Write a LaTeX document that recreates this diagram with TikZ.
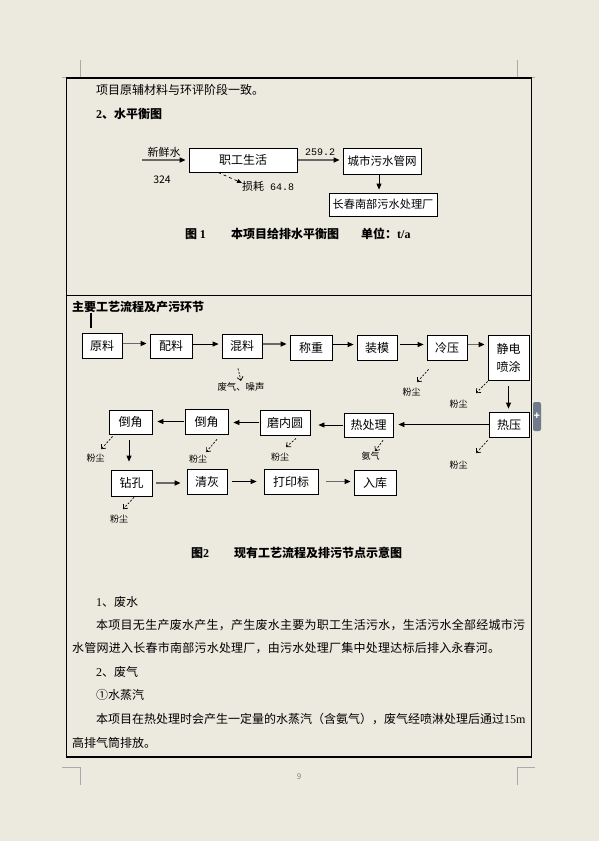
\documentclass[tikz,border=0pt]{standalone}
\usepackage{fontspec}
\setmainfont{Noto Sans CJK SC}
\newfontfamily\tnr{Liberation Serif}
\newfontfamily\mono{Liberation Mono}
\usepackage{xcolor}
\usepackage{tikz}
\usetikzlibrary{arrows.meta}
\definecolor{pagebg}{RGB}{236,233,222}
\definecolor{markgray}{RGB}{170,170,170}
\definecolor{tabgray}{RGB}{112,122,138}
\definecolor{arrgray}{RGB}{105,105,105}
\newcommand{\sz}[1]{\fontsize{#1}{#1}\selectfont}
\def\spreadchars#1{\ifx#1\relax\else#1\hfil\expandafter\spreadchars\fi}

\begin{document}
\begin{tikzpicture}[x=1pt, y=-1pt,
  box/.style={draw, fill=white, line width=0.8pt, inner sep=0pt, font=\sz{12}},
  flow/.style={-{Triangle[length=6pt,width=5pt,color=black]}, line width=0.8pt, shorten >=3pt, shorten <=1pt},
  gflow/.style={flow, line width=1.5pt, draw=arrgray},
  loss/.style={dashed, -{Triangle[length=5pt,width=4pt]}, line width=0.7pt},
  dust/.style={dash pattern=on 2pt off 1.5pt, -{Straight Barb[length=3.5pt,width=6pt]}, line width=0.7pt},
  lbl/.style={inner sep=0pt, font=\sz{9}},
  txt/.style={anchor=west, inner sep=0pt, font=\sz{12}},
  captxt/.style={anchor=west, inner sep=0pt, font=\sz{12}\bfseries}]
\fill[pagebg] (0,0) rectangle (599,841);
\useasboundingbox (0,0) rectangle (599,841);

% page corners and frame
\draw[markgray, line width=0.8pt] (62,77) -- (80,77) -- (80,60);
\draw[markgray, line width=0.8pt] (535,77) -- (517,77) -- (517,60);
\draw[markgray, line width=0.8pt] (62,767) -- (80,767) -- (80,785);
\draw[markgray, line width=0.8pt] (535,767) -- (517,767) -- (517,785);
\draw[line width=1.2pt] (66.5,78) rectangle (531.5,757);
\draw[line width=1pt] (66.5,295) -- (531.5,295);
\fill[tabgray, rounded corners=2pt] (533,402) rectangle (541,431);
\node[text=white, font=\sz{10}\bfseries, inner sep=0pt] (tabplus) at (537,416) {+};
\node[text=gray, font=\sz{8}, inner sep=0pt] (pgno) at (299,777) {9};

\node[txt] (t1) at (96,90) {项目原辅材料与环评阶段一致。};
\node[captxt] (t2) at (96,114) {{\tnr 2}、水平衡图};

% water balance
\node[inner sep=0pt, font=\sz{11}] (xsw) at (164,152) {新鲜水};
\coordinate (src) at (141,160);
\node[box, minimum width=108pt, minimum height=24pt] (zg) at (243,160) {职工生活};
\draw[gflow] (src) -- (zg.west);
\node[inner sep=0pt, font=\sz{10.5}] (n324) at (162,180) {324};
\node[box, minimum width=78pt, minimum height=26pt, font=\sz{11.5}] (gw) at (382,161) {城市污水管网};
\node[box, minimum width=108pt, minimum height=23pt, font=\sz{11.2}] (cl) at (383,204.5) {长春南部污水处理厂};
\draw[gflow] (zg.east) -- (zg.east -| gw.west) node[midway, above=0pt, font=\mono\sz{10}] (q259) {259.2};
\node[inner sep=0pt, anchor=west] (sh) at (242,186) {\sz{11}损耗{\mono\sz{10} 64.8}};
\draw[loss] ([xshift=-25pt]zg.south) -- ([yshift=3pt]sh.west);
\draw[flow] ([xshift=-3pt]gw.south) -- ([xshift=-3pt]gw.south |- cl.north);

\node[captxt] (c1a) at (185,234) {图 {\tnr 1}};
\node[captxt] (c1b) at (231,234) {本项目给排水平衡图};
\node[captxt] (c1c) at (361,234) {单位：{\tnr t/a}};

% process flow
\node[captxt] (hd) at (72,307) {主要工艺流程及产污环节};
\draw[line width=1.5pt] (91,313) -- (91,328);

\node[box, minimum width=40pt, minimum height=25pt] (yl) at (102,345.5) {原料};
\node[box, minimum width=42pt, minimum height=24pt] (pl) at (171,346) {配料};
\node[box, minimum width=40pt, minimum height=24pt] (hl) at (242,346) {混料};
\node[box, minimum width=42pt, minimum height=25pt] (cz) at (311,347.5) {称重};
\node[box, minimum width=40pt, minimum height=25pt] (zm) at (377,347.5) {装模};
\node[box, minimum width=40pt, minimum height=25pt] (ly) at (447,347.5) {冷压};
\node[box, minimum width=41pt, minimum height=45pt, align=center] (jd) at (508.5,357.5) {静电\\[6pt]喷涂};
\node[box, minimum width=40pt, minimum height=25pt] (ry) at (509,424.5) {热压};
\node[box, minimum width=49pt, minimum height=24pt] (rcl) at (368.5,425) {热处理};
\node[box, minimum width=50pt, minimum height=25pt] (mny) at (285,422.5) {磨内圆};
\node[box, minimum width=43pt, minimum height=25pt] (dj2) at (206.5,421.5) {倒角};
\node[box, minimum width=43pt, minimum height=24pt] (dj1) at (130.5,422) {倒角};
\node[box, minimum width=41pt, minimum height=26pt] (zk) at (131.5,483) {钻孔};
\node[box, minimum width=40pt, minimum height=25pt] (qh) at (207,481.5) {清灰};
\node[box, minimum width=54pt, minimum height=25pt] (dyb) at (291,481.5) {打印标};
\node[box, minimum width=42pt, minimum height=25pt] (rk) at (375,482.5) {入库};

\draw[gflow] ([yshift=2pt]yl.east) -- ([yshift=2pt]yl.east -| pl.west);
\draw[flow] ([yshift=2pt]pl.east) -- ([yshift=2pt]pl.east -| hl.west);
\draw[gflow] ([yshift=2pt]hl.east) -- ([yshift=2pt]hl.east -| cz.west);
\draw[flow] ([yshift=3pt]cz.east) -- ([yshift=3pt]cz.east -| zm.west);
\draw[flow, shorten <=3pt] ([yshift=3pt]zm.east) -- ([yshift=3pt]zm.east -| ly.west);
\draw[gflow] ([yshift=3pt]ly.east) -- ([yshift=3pt]ly.east -| jd.west);
\draw[flow, shorten <=6pt] (jd.south) -- (jd.south |- ry.north);
\draw[flow, shorten >=5pt, shorten <=0pt] (ry.west) -- (ry.west -| rcl.east);
\draw[flow, shorten >=8pt] (rcl.west) -- (rcl.west -| mny.east);
\draw[flow, shorten >=5pt] (mny.west) -- (mny.west -| dj2.east);
\draw[flow, shorten >=5pt] (dj2.west) -- (dj2.west -| dj1.east);
\draw[flow, shorten <=6pt, shorten >=8pt] ([xshift=-1.5pt]dj1.south) -- ([xshift=-1.5pt]dj1.south |- zk.north);
\draw[gflow, shorten <=4pt, shorten >=6pt] (zk.east) -- (zk.east -| qh.west);
\draw[flow, shorten <=5pt, shorten >=7pt] (qh.east) -- (qh.east -| dyb.west);
\draw[gflow, shorten <=8pt] (dyb.east) -- (dyb.east -| rk.west);

% emissions
\node[lbl, font=\sz{9.4}] (fq) at (241,387) {废气、噪声};
\node[lbl] (fc1) at (411.5,392) {粉尘};
\node[lbl] (fc2) at (458.5,404) {粉尘};
\node[lbl] (fc3) at (95.5,458) {粉尘};
\node[lbl] (fc4) at (198,459) {粉尘};
\node[lbl] (fc5) at (280,457) {粉尘};
\node[lbl] (aq) at (370.5,456) {氨气};
\node[lbl] (fc6) at (458.5,465) {粉尘};
\node[lbl] (fc7) at (119,519) {粉尘};
\draw[dust] ([shift={(-4pt,-10pt)}]hl.south) -- ([shift={(0pt,1.5pt)}]fq.north);
\draw[dust] ([shift={(2pt,-9pt)}]ly.south west) -- ([shift={(5.5pt,5.5pt)}]fc1.north);
\draw[dust] ([shift={(0pt,-1pt)}]jd.south west) -- ([shift={(17.5pt,6.5pt)}]fc2.north);
\draw[dust] ([shift={(4pt,-2pt)}]dj1.south west) -- ([shift={(5.5pt,4.5pt)}]fc3.north);
\draw[dust] ([shift={(10.5pt,-5pt)}]dj2.south) -- ([shift={(8pt,2.5pt)}]fc4.north);
\draw[dust] ([shift={(11pt,-3pt)}]mny.south) -- ([shift={(6pt,5.5pt)}]fc5.north);
\draw[dust] ([shift={(14.5pt,-3pt)}]rcl.south) -- ([shift={(4.5pt,0.5pt)}]aq.north);
\draw[dust] ([shift={(-1pt,-3pt)}]ry.south west) -- ([shift={(17.5pt,7.5pt)}]fc6.north);
\draw[dust] ([shift={(2.5pt,-1pt)}]zk.south) -- ([shift={(4pt,5.5pt)}]fc7.north);

\node[captxt] (c2a) at (191,553) {图{\tnr 2}};
\node[captxt] (c2b) at (234,553) {现有工艺流程及排污节点示意图};

% text below
\node[txt] (p1) at (96,602) {{\tnr 1}、废水};
\node[txt] (p2) at (96,625) {\makebox[429pt][s]{\spreadchars 本项目无生产废水产生，产生废水主要为职工生活污水，生活污水全部经城市污\relax\unskip}};
\node[txt] (p3) at (72,648) {\makebox[428pt][s]{\spreadchars 水管网进入长春市南部污水处理厂，由污水处理厂集中处理达标后排入永春河。\relax\unskip}};
\node[txt] (p4) at (96,672) {{\tnr 2}、废气};
\node[txt] (p5) at (96,695) {①水蒸汽};
\node[txt] (p6) at (96,719) {\makebox[429pt][s]{\spreadchars 本项目在热处理时会产生一定量的水蒸汽（含氨气），废气经喷淋处理后通过\relax\hfil{\tnr 15m}}};
\node[txt] (p7) at (72,743) {高排气筒排放。};
\end{tikzpicture}
\end{document}
